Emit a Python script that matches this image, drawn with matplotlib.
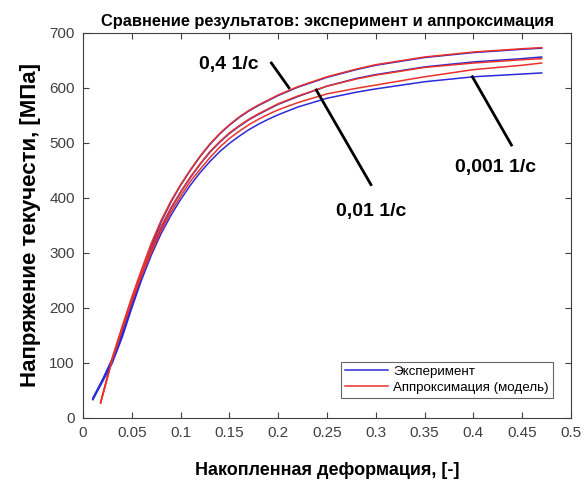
import matplotlib
matplotlib.use("Agg")
import matplotlib.pyplot as plt

plt.rcParams["font.family"] = ["Liberation Sans", "DejaVu Sans"]

# strain values for the curves
strain = [0.01, 0.02, 0.03, 0.04, 0.05, 0.06, 0.07, 0.08, 0.09, 0.10, 0.11, 0.12, 0.13, 0.14,
          0.15, 0.16, 0.17, 0.18, 0.19, 0.20, 0.22, 0.25, 0.28, 0.30, 0.35, 0.40, 0.45, 0.47]
strain_model = [0.018, 0.02, 0.03, 0.04, 0.05, 0.06, 0.07, 0.08, 0.09, 0.10, 0.11, 0.12, 0.13, 0.14,
                0.15, 0.16, 0.17, 0.18, 0.19, 0.20, 0.22, 0.25, 0.28, 0.30, 0.35, 0.40, 0.45, 0.47]

# experiment, MPa
exp_04 = [36, 70, 108, 155, 208, 262, 312, 356, 392, 423, 450, 475, 497, 516,
          532, 546, 558, 568, 577, 586, 601, 619, 633, 641, 655, 664, 670, 672]
exp_001 = [34, 68, 104, 150, 204, 257, 304, 345, 380, 410, 437, 461, 483, 501,
           517, 530, 542, 552, 561, 570, 584, 603, 617, 624, 638, 647, 653, 656]
exp_0001 = [33, 66, 100, 146, 200, 251, 296, 335, 368, 397, 423, 446, 466, 484,
            499, 512, 524, 534, 543, 551, 565, 581, 592, 598, 611, 620, 625, 627]

# approximation (model), MPa
mod_04 = [28, 42, 110, 166, 220, 270, 318, 359, 394, 424, 451, 476, 498, 517,
          533, 547, 559, 569, 578, 587, 602, 620, 634, 642, 656, 665, 671, 673]
mod_001 = [28, 41, 108, 163, 216, 265, 309, 348, 382, 411, 438, 462, 484, 502,
           518, 531, 543, 553, 562, 571, 585, 603, 616, 623, 637, 645, 651, 653]
mod_0001 = [27, 40, 106, 160, 212, 259, 301, 340, 374, 403, 430, 452, 473, 492,
            508, 521, 533, 543, 552, 560, 573, 589, 599, 605, 620, 633, 641, 645]

fig = plt.figure(figsize=(5.85, 4.82), dpi=100)
ax = fig.add_axes([0.142, 0.133, 0.834, 0.799])

blue = "#2a2ad6"
red = "#e8322a"

ax.plot(strain, exp_04, color=blue, lw=1.1, label="Эксперимент")
ax.plot(strain_model, mod_04, color=red, lw=1.1, label="Аппроксимация (модель)")
ax.plot(strain, exp_001, color=blue, lw=1.1)
ax.plot(strain_model, mod_001, color=red, lw=1.1)
ax.plot(strain, exp_0001, color=blue, lw=1.1)
ax.plot(strain_model, mod_0001, color=red, lw=1.1)

# rate labels with leader lines
lab = dict(fontsize=14, fontweight="bold", ha="center", va="center")
ax.text(0.149, 642, "0,4 1/с", **lab)
ax.text(0.295, 375, "0,01 1/с", **lab)
ax.text(0.423, 455, "0,001 1/с", **lab)
ax.plot([0.193, 0.211], [645, 600], color="black", lw=2)
ax.plot([0.239, 0.295], [596, 424], color="black", lw=2)
ax.plot([0.399, 0.439], [620, 496], color="black", lw=2)

ax.set_xlim(0, 0.5)
ax.set_ylim(0, 700)
ax.set_xticks([0, 0.05, 0.1, 0.15, 0.2, 0.25, 0.3, 0.35, 0.4, 0.45, 0.5])
ax.set_xticklabels(["0", "0.05", "0.1", "0.15", "0.2", "0.25", "0.3", "0.35", "0.4", "0.45", "0.5"])
ax.set_yticks(range(0, 701, 100))
ax.tick_params(direction="in", top=True, right=True, length=4, labelsize=11, colors="#404040", pad=6)
for sp in ax.spines.values():
    sp.set_color("#404040")
    sp.set_linewidth(0.8)

ax.set_title("Сравнение результатов: эксперимент и аппроксимация", fontsize=11.8, fontweight="bold", pad=5)
ax.set_xlabel("Накопленная деформация, [-]", fontsize=13, fontweight="bold", labelpad=16)
ax.set_ylabel("Напряжение текучести, [МПа]", fontsize=16, fontweight="bold", labelpad=6)

leg = ax.legend(loc="lower right", fontsize=9.6, fancybox=False, edgecolor="#404040",
                handlelength=3.2, handletextpad=0.4, borderpad=0.3, labelspacing=0.25,
                bbox_to_anchor=(0.976, 0.035))
leg.get_frame().set_linewidth(0.8)

fig.savefig("out.png", dpi=100)
